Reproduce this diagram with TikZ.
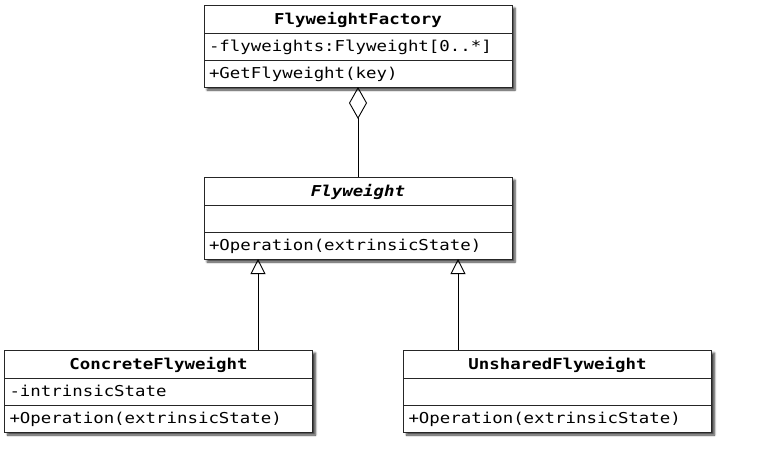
\documentclass[tikz,border=0pt]{standalone}
\usepackage{fontspec}
\setmonofont[FakeStretch=1.16]{DejaVu Sans Mono}
\usetikzlibrary{arrows.meta,shadows.blur}
\tikzset{
  umlfont/.style={font=\fontsize{15}{17}\selectfont\ttfamily},
  umlclass/.style={draw=black!85, line width=0.9pt, fill=white, minimum width=308pt, minimum height=82pt, inner sep=0pt, outer sep=0pt,
    blur shadow={shadow xshift=3pt, shadow yshift=-3pt, shadow blur steps=6, shadow blur radius=2pt, shadow opacity=75}},
  hdr/.style={draw=black!85, line width=0.9pt, minimum width=308pt, minimum height=28pt, inner sep=0pt, outer sep=0pt,
    text height=10.8pt, text depth=0pt, font=\fontsize{15}{17}\selectfont\ttfamily\bfseries},
  hdrit/.style={hdr, font=\fontsize{15}{17}\selectfont\ttfamily\bfseries\itshape},
  row/.style={draw=black!85, line width=0.9pt, minimum height=27pt, text width=298pt, align=left,
    inner xsep=5pt, inner ysep=0pt, outer sep=0pt, text height=10.8pt, text depth=0pt, umlfont},
  aggr/.style={line width=0.9pt, {Diamond[open,length=32pt,width=18pt]}-},
  inh/.style={line width=0.9pt, -{Triangle[open,length=15pt,width=15pt]}}
}
\begin{document}
\begin{tikzpicture}[x=1pt,y=-1pt]
\useasboundingbox (0,0) rectangle (776,467);

% FlyweightFactory
\node[umlclass] (ff) at (358,46) {};
\node[hdr, anchor=north] (ffname) at (ff.north) {FlyweightFactory};
\node[row, anchor=north] (ffattr) at (ffname.south) {-flyweights:Flyweight[0..*]};
\node[row, anchor=north] (ffop) at (ffattr.south) {+GetFlyweight(key)};

% Flyweight
\node[umlclass] (fw) at (358,218) {};
\node[hdrit, anchor=north] (fwname) at (fw.north) {Flyweight};
\node[row, anchor=north] (fwattr) at (fwname.south) {};
\node[row, anchor=north] (fwop) at (fwattr.south) {+Operation(extrinsicState)};

% ConcreteFlyweight
\node[umlclass] (cf) at (158.5,391) {};
\node[hdr, anchor=north] (cfname) at (cf.north) {ConcreteFlyweight};
\node[row, anchor=north] (cfattr) at (cfname.south) {-intrinsicState};
\node[row, anchor=north] (cfop) at (cfattr.south) {+Operation(extrinsicState)};

% UnsharedFlyweight
\node[umlclass] (uf) at (557.5,391) {};
\node[hdr, anchor=north] (ufname) at (uf.north) {UnsharedFlyweight};
\node[row, anchor=north] (ufattr) at (ufname.south) {};
\node[row, anchor=north] (ufop) at (ufattr.south) {+Operation(extrinsicState)};

% connectors
\draw[aggr] (ffop.south) -- (fwname.north);
\coordinate (jl) at ([xshift=54pt]fwop.south west);
\coordinate (jr) at ([xshift=254pt]fwop.south west);
\draw[inh] (cfname.north -| jl) -- (jl);
\draw[inh] (ufname.north -| jr) -- (jr);
\end{tikzpicture}
\end{document}
